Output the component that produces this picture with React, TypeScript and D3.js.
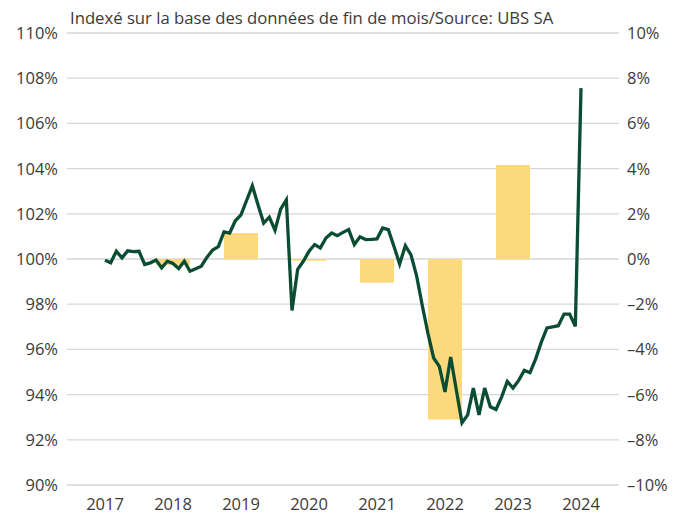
import React, { useEffect } from 'react';
import * as d3 from 'd3';

const yearLabels = ['2017', '2018', '2019', '2020', '2021', '2022', '2023', '2024'];
// Annual change (right axis, %), null = no bar
const annualChange: (number | null)[] = [null, -0.27, 1.15, -0.08, -1.05, -7.1, 4.16, null];
// Month-end index values (left axis, %), one per month from the 2017 mark to the 2024 mark
const monthlyIndex = [
  99.95, 99.83, 100.34, 100.05, 100.36, 100.33, 100.34, 99.76, 99.83, 99.95, 99.61, 99.9,
  99.8, 99.58, 99.9, 99.46, 99.57, 99.68, 100.08, 100.4, 100.55, 101.2, 101.15, 101.69,
  101.95, 102.6, 103.24, 102.4, 101.59, 101.85, 101.27, 102.21, 102.62, 97.72, 99.54, 99.9,
  100.34, 100.64, 100.49, 100.93, 101.15, 101.03, 101.18, 101.3, 100.64, 100.98, 100.86, 100.87,
  100.89, 101.37, 101.3, 100.55, 99.78, 100.59, 100.18, 99.24, 97.93, 96.7, 95.62, 95.25,
  94.12, 95.66, 94.2, 92.75, 93.1, 94.29, 93.1, 94.29, 93.46, 93.34, 93.9, 94.58,
  94.29, 94.63, 95.07, 94.97, 95.58, 96.32, 96.95, 97.0, 97.05, 97.56, 97.56, 97.02,
  107.56,
];
const leftTicks = [90, 92, 94, 96, 98, 100, 102, 104, 106, 108, 110];
const rightTicks = [-10, -8, -6, -4, -2, 0, 2, 4, 6, 8, 10];
const title = 'Indexé sur la base des données de fin de mois/Source: UBS SA';

const W = 683;
const H = 515;
const FONT = "'Open Sans', sans-serif";
const TEXT = '#3a3a3a';

export default function App() {
  useEffect(() => {
    document.body.style.margin = '0';
  }, []);

  const x = d3.scaleLinear().domain([0, (yearLabels.length - 1) * 12]).range([105, 581]);
  const yL = d3.scaleLinear().domain([90, 110]).range([485, 33]);
  const yR = d3.scaleLinear().domain([-10, 10]).range([485, 33]);
  const gridX0 = 67;
  const gridX1 = 619;
  const barW = 34;

  const line = d3
    .line<number>()
    .x((_, i) => x(i))
    .y((d) => yL(d));

  return (
    <svg width={W} height={H} style={{ display: 'block', position: 'absolute', left: 0, top: 0 }}>
      <rect width={W} height={H} fill="#fff" />
      <text x={70} y={24} fontFamily={FONT} fontSize={16.7} fill={TEXT}>
        {title}
      </text>
      {leftTicks.map((t) => (
        <line key={'g' + t} x1={gridX0} x2={gridX1} y1={yL(t)} y2={yL(t)} stroke="#d6d6d6" strokeWidth={1.3} />
      ))}
      {leftTicks.map((t) => (
        <text key={'l' + t} x={58} y={yL(t)} dy="0.36em" textAnchor="end" fontFamily={FONT} fontSize={16.5} fill={TEXT}>
          {`${t}%`}
        </text>
      ))}
      {rightTicks.map((t) => (
        <text key={'r' + t} x={627} y={yR(t)} dy="0.36em" textAnchor="start" fontFamily={FONT} fontSize={16.5} fill={TEXT}>
          {`${t < 0 ? '–' : ''}${Math.abs(t)}%`}
        </text>
      ))}
      {annualChange.map((v, k) =>
        v === null ? null : (
          <rect
            key={'b' + k}
            x={x(k * 12) - barW / 2}
            width={barW}
            y={yR(Math.max(v, 0))}
            height={Math.abs(yR(v) - yR(0))}
            fill="#fdd97d"
          />
        )
      )}
      <path d={line(monthlyIndex) || ''} fill="none" stroke="#0b4d33" strokeWidth={3.3} strokeLinejoin="miter" strokeMiterlimit={4} />
      {yearLabels.map((yl, k) => (
        <text key={'y' + yl} x={x(k * 12)} y={510} textAnchor="middle" fontFamily={FONT} fontSize={16.5} fill={TEXT}>
          {yl}
        </text>
      ))}
    </svg>
  );
}
